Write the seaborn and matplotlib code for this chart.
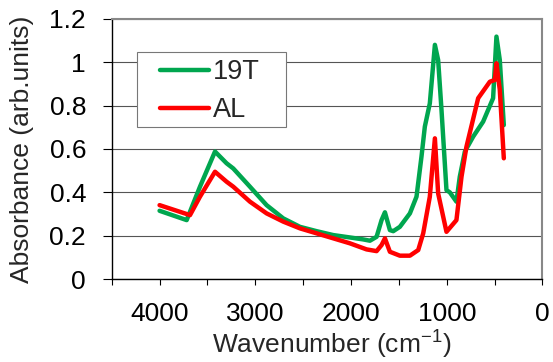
import matplotlib
matplotlib.use("Agg")
import matplotlib.pyplot as plt
from matplotlib.patches import Rectangle
import seaborn as sns
import pandas as pd

wn_19t = [4000, 3717, 3578, 3421, 3300, 3230, 3056, 2882, 2708, 2534, 2360, 2186, 2012, 1873, 1803,
          1733, 1681, 1646, 1594, 1559, 1490, 1385, 1316, 1264, 1229, 1177, 1124, 1090, 1055, 1003,
          968, 899, 864, 811, 724, 620, 516, 481, 446, 404]
abs_19t = [0.315, 0.272, 0.426, 0.588, 0.534, 0.51, 0.426, 0.341, 0.28, 0.241, 0.221, 0.203, 0.192, 0.183, 0.177,
           0.195, 0.272, 0.308, 0.226, 0.221, 0.241, 0.303, 0.38, 0.565, 0.703, 0.81, 1.08, 1.01, 0.78, 0.41,
           0.40, 0.357, 0.472, 0.588, 0.657, 0.726, 0.834, 1.118, 1.01, 0.71]

wn_al = [4000, 3682, 3578, 3421, 3300, 3230, 3056, 2882, 2708, 2534, 2360, 2186, 2012, 1838, 1733,
         1681, 1646, 1594, 1490, 1385, 1298, 1246, 1177, 1124, 1090, 1003, 899, 846, 794, 672,
         550, 498, 481, 446, 404]
abs_al = [0.341, 0.295, 0.38, 0.495, 0.449, 0.426, 0.357, 0.303, 0.265, 0.234, 0.211, 0.188, 0.165, 0.137, 0.129,
          0.157, 0.188, 0.126, 0.108, 0.108, 0.134, 0.211, 0.38, 0.649, 0.395, 0.218, 0.272, 0.472, 0.611, 0.834,
          0.91, 0.918, 0.995, 0.872, 0.557]

series_names = ["19T", "AL"]
colors = ["#00A64F", "#FF0000"]
x_ticks = [4000, 3000, 2000, 1000, 0]
y_ticks = [0, 0.2, 0.4, 0.6, 0.8, 1.0, 1.2]
y_ticklabels = ["0", "0.2", "0.4", "0.6", "0.8", "1", "1.2"]

df = pd.concat([
    pd.DataFrame({"wn": wn_19t, "abs": abs_19t, "sample": series_names[0]}),
    pd.DataFrame({"wn": wn_al, "abs": abs_al, "sample": series_names[1]}),
], ignore_index=True)

sns.set_style("white")
plt.rcParams["font.family"] = ["Liberation Sans", "DejaVu Sans"]
plt.rcParams["mathtext.fontset"] = "custom"
plt.rcParams["mathtext.rm"] = "Liberation Sans"
plt.rcParams["mathtext.it"] = "Liberation Sans"

fig = plt.figure(figsize=(5.53, 3.62), dpi=100)
ax = fig.add_axes([0.202, 0.229, 0.779, 0.719])

sns.lineplot(data=df, x="wn", y="abs", hue="sample", palette=colors, sort=False,
             linewidth=3.2, ax=ax, estimator=None, legend=True)

ax.set_xlim(4500, 0)
ax.set_ylim(0, 1.2)
ax.set_xticks(range(4500, -1, -500), minor=True)
ax.set_xticks(x_ticks)
ax.set_xticklabels([str(t) for t in x_ticks], fontsize=19)
ax.set_yticks(y_ticks)
ax.set_yticklabels(y_ticklabels, fontsize=19)
ax.tick_params(axis="x", which="both", direction="out", length=4.5, width=0.8, colors="black", pad=12, bottom=True)
ax.tick_params(axis="y", which="both", direction="out", length=6.5, width=0.8, colors="black", pad=12, left=True)
ax.tick_params(axis="x", which="minor", labelbottom=False)

ax.grid(axis="y", color="#555555", linewidth=0.8)
ax.set_axisbelow(True)
for side in ["left", "bottom"]:
    ax.spines[side].set_color("black")
    ax.spines[side].set_linewidth(1.0)
for side in ["top", "right"]:
    ax.spines[side].set_visible(True)
    ax.spines[side].set_color("#888888")
    ax.spines[side].set_linewidth(1.5)

ax.set_xlabel("Wavenumber (cm$^{-1}$)", fontsize=19)
ax.set_ylabel("Absorbance (arb.units)", fontsize=19)
ax.xaxis.set_label_coords(0.51, -0.19)
ax.yaxis.set_label_coords(-0.18, 0.5)

# legend frame drawn separately so its padding matches the reference
frame = Rectangle((0.0587, 0.585), 0.3457, 0.288, transform=ax.transAxes,
                  facecolor="white", edgecolor="#777777", linewidth=0.8, zorder=4)
ax.add_patch(frame)

handles, labels = ax.get_legend_handles_labels()
leg = ax.legend(handles, labels, loc="upper left", bbox_to_anchor=(0.112, 0.845),
                fontsize=19.5, frameon=False,
                handlelength=1.8, handletextpad=0.15, labelspacing=0.45, borderpad=0,
                borderaxespad=0)
leg.set_zorder(5)
for line in leg.get_lines():
    line.set_linewidth(3.2)
    line.set_solid_capstyle("round")

fig.savefig("out.png", dpi=100)
